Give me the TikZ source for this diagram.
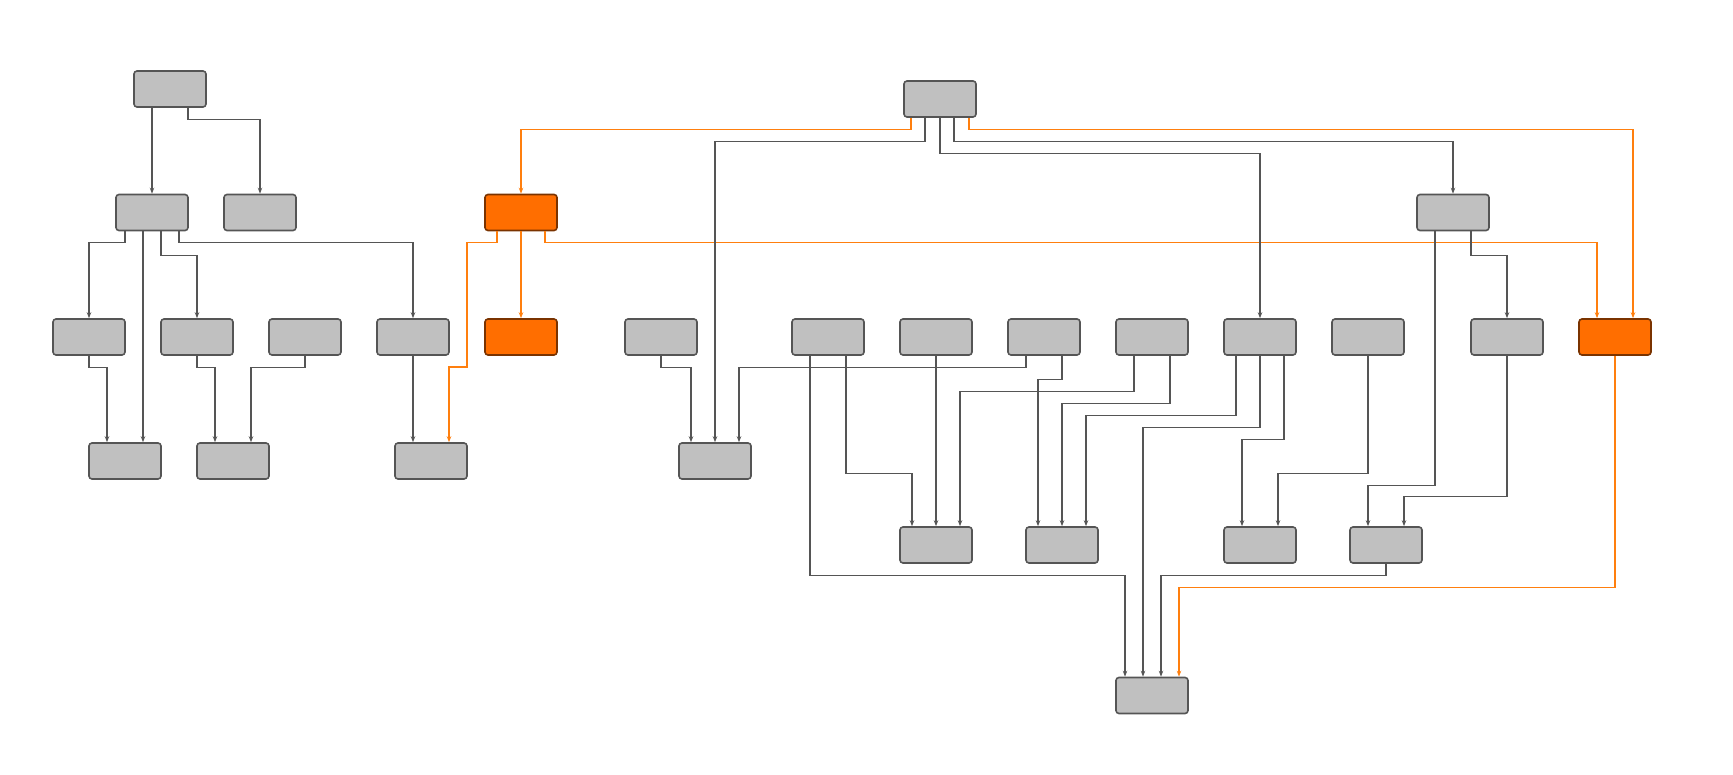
\documentclass[tikz,border=0pt]{standalone}
\usetikzlibrary{arrows.meta}
\definecolor{boxgray}{HTML}{C0C0C0}
\definecolor{linegray}{HTML}{555555}
\definecolor{hotfill}{HTML}{FF6E00}
\definecolor{hotdraw}{HTML}{7A3300}
\definecolor{hotline}{HTML}{FF7F0E}
\begin{document}
\begin{tikzpicture}[x=1pt,y=-1pt,
  box/.style={draw=linegray,fill=boxgray,line width=1.6pt,rounded corners=3pt,minimum width=72pt,minimum height=36pt,inner sep=0pt},
  hot/.style={box,draw=hotdraw,fill=hotfill},
  edge/.style={draw=linegray,line width=1.2pt,-{Stealth[length=6pt,width=4.5pt]}},
  hotedge/.style={edge,draw=hotline,-{Stealth[length=6pt,width=4.5pt,color=hotline]}}]
\path (0,0) rectangle (1733,775);

% Row 1
\node[box] (A) at (170,89) {};
\node[box] (T) at (940,99) {};
% Row 2
\node[box] (B1) at (152,212.5) {};
\node[box] (B2) at (260,212.5) {};
\node[hot] (O1) at (521,212.5) {};
\node[box] (R2) at (1453,212.5) {};
% Row 3
\node[box] (C1) at (89,337) {};
\node[box] (C2) at (197,337) {};
\node[box] (C3) at (305,337) {};
\node[box] (C4) at (413,337) {};
\node[hot] (O2) at (521,337) {};
\node[box] (D1) at (661,337) {};
\node[box] (D2) at (828,337) {};
\node[box] (D3) at (936,337) {};
\node[box] (D4) at (1044,337) {};
\node[box] (D5) at (1152,337) {};
\node[box] (D6) at (1260,337) {};
\node[box] (D7) at (1368,337) {};
\node[box] (D8) at (1507,337) {};
\node[hot] (O3) at (1615,337) {};
% Row 4
\node[box] (E1) at (125,461) {};
\node[box] (E2) at (233,461) {};
\node[box] (E3) at (431,461) {};
\node[box] (E4) at (715,461) {};
% Row 5
\node[box] (F1) at (936,545) {};
\node[box] (F2) at (1062,545) {};
\node[box] (F3) at (1260,545) {};
\node[box] (F4) at (1386,545) {};
% Bottom
\node[box] (G) at (1152,695.5) {};

% left tree
\draw[edge] ([xshift=-18pt]A.south) -- (B1.north);
\draw[edge] ([xshift=18pt]A.south) -- ++(0,12) -| (B2.north);
\draw[edge] ([xshift=-27pt]B1.south) -- ++(0,11.5) -| (C1.north);
\draw[edge] ([xshift=-9pt]B1.south) -- ([xshift=18pt]E1.north);
\draw[edge] ([xshift=9pt]B1.south) -- ++(0,24) -| (C2.north);
\draw[edge] ([xshift=27pt]B1.south) -- ++(0,11.5) -| (C4.north);
\draw[edge] (C1.south) -- ++(0,12) -| ([xshift=-18pt]E1.north);
\draw[edge] (C2.south) -- ++(0,12) -| ([xshift=-18pt]E2.north);
\draw[edge] (C3.south) -- ++(0,12) -| ([xshift=18pt]E2.north);
\draw[edge] (C4.south) -- ([xshift=-18pt]E3.north);

% orange paths
\draw[hotedge] ([xshift=-29pt]T.south) -- ++(0,12) -| (O1.north);
\draw[hotedge] ([xshift=29pt]T.south) -- ++(0,12) -| ([xshift=18pt]O3.north);
\draw[hotedge] ([xshift=-24pt]O1.south) -- ++(0,11.5) -| (467,367) -| ([xshift=18pt]E3.north);
\draw[hotedge] (O1.south) -- (O2.north);
\draw[hotedge] ([xshift=24pt]O1.south) -- ++(0,11.5) -| ([xshift=-18pt]O3.north);
\draw[hotedge] (O3.south) -- ++(0,232) -| ([xshift=27pt]G.north);

% right tree
\draw[edge] ([xshift=-15pt]T.south) -- ++(0,24) -| (E4.north);
\draw[edge] (T.south) -- ++(0,36) -| (D6.north);
\draw[edge] ([xshift=14pt]T.south) -- ++(0,24) -| (R2.north);
\draw[edge] ([xshift=-18pt]R2.south) -- ++(0,254) -| ([xshift=-18pt]F4.north);
\draw[edge] ([xshift=18pt]R2.south) -- ++(0,24) -| (D8.north);
\draw[edge] (D1.south) -- ++(0,12) -| ([xshift=-24pt]E4.north);
\draw[edge] ([xshift=-18pt]D2.south) -- ++(0,220) -| ([xshift=-27pt]G.north);
\draw[edge] ([xshift=18pt]D2.south) -- ++(0,118) -| ([xshift=-24pt]F1.north);
\draw[edge] (D3.south) -- (F1.north);
\draw[edge] ([xshift=-18pt]D4.south) -- ++(0,12) -| ([xshift=24pt]E4.north);
\draw[edge] ([xshift=18pt]D4.south) -- ++(0,24) -| ([xshift=-24pt]F2.north);
\draw[edge] ([xshift=-18pt]D5.south) -- ++(0,36) -| ([xshift=24pt]F1.north);
\draw[edge] ([xshift=18pt]D5.south) -- ++(0,48) -| (F2.north);
\draw[edge] ([xshift=-24pt]D6.south) -- ++(0,60) -| ([xshift=24pt]F2.north);
\draw[edge] (D6.south) -- ++(0,72) -| ([xshift=-9pt]G.north);
\draw[edge] ([xshift=24pt]D6.south) -- ++(0,84) -| ([xshift=-18pt]F3.north);
\draw[edge] (D7.south) -- ++(0,118) -| ([xshift=18pt]F3.north);
\draw[edge] (D8.south) -- ++(0,141) -| ([xshift=18pt]F4.north);
\draw[edge] (F4.south) -- ++(0,12) -| ([xshift=9pt]G.north);
\end{tikzpicture}
\end{document}
